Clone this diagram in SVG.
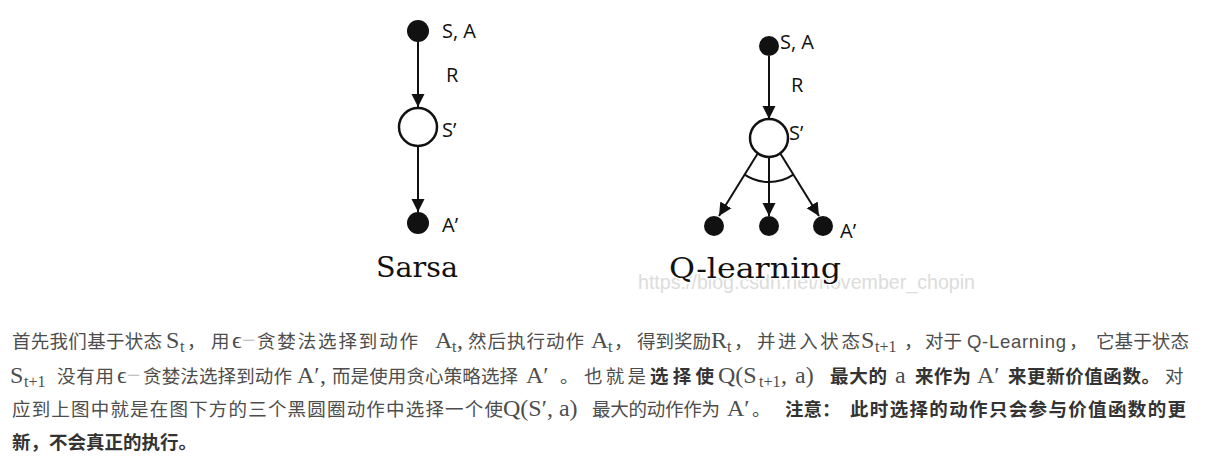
<svg xmlns="http://www.w3.org/2000/svg" width="1205" height="461" viewBox="0 0 1205 461">
<defs>
<marker id="ah" markerUnits="userSpaceOnUse" markerWidth="14" markerHeight="14" viewBox="0 0 14 14" refX="13" refY="7" orient="auto"><path d="M0,0.5 L13,7 L0,13.5 Z" fill="#111"/></marker>
<style>
.fn{fill:#111}
.on{fill:#fff;stroke:#111;stroke-width:2.5}
.ed{stroke:#111;stroke-width:2;fill:none}
.lb{font-family:"Open Sans","Liberation Sans",sans-serif;font-size:20px;fill:#111}
.ti{font-family:"DejaVu Serif","Liberation Serif",serif;font-size:28px;fill:#111}
.wm{font-family:"Liberation Sans",Arial,sans-serif;font-size:20px;fill:#dcdcdc}
.p{font-family:"Noto Sans CJK SC",sans-serif;font-size:18.5px;fill:#4d4d4d}
.b{font-weight:bold;fill:#333}
.m{font-family:"Liberation Serif",serif;font-size:24px;fill:#4d4d4d}
.s{font-family:"Liberation Serif",serif;font-size:16px;fill:#4d4d4d}
.d{fill:#b5b5b5}
.la{font-family:"Liberation Sans",Arial,sans-serif}
</style>
</defs>
<text class="wm" x="638" y="289" textLength="337" lengthAdjust="spacingAndGlyphs">https://blog.csdn.net/november_chopin</text>
<g id="connectors">
<line class="ed" x1="418" y1="42" x2="418" y2="107" marker-end="url(#ah)"/>
<line class="ed" x1="418" y1="146" x2="418" y2="212" marker-end="url(#ah)"/>
<line class="ed" x1="769" y1="56" x2="769" y2="119" marker-end="url(#ah)"/>
<line class="ed" x1="758" y1="153" x2="719" y2="216" marker-end="url(#ah)"/>
<line class="ed" x1="769" y1="157" x2="769" y2="216" marker-end="url(#ah)"/>
<line class="ed" x1="780" y1="153" x2="819" y2="216" marker-end="url(#ah)"/>
<path class="ed" d="M744.6,174.6 A44,44 0 0,0 793.4,174.6"/>
</g>
<g id="sarsa-sa"><circle class="fn" cx="418" cy="31" r="11"/><text class="lb" x="442" y="38">S, A</text></g>
<text class="lb" x="446" y="82">R</text>
<g id="sarsa-s2"><circle class="on" cx="418" cy="127" r="19"/><text class="lb" x="442" y="137">S’</text></g>
<g id="sarsa-a2"><circle class="fn" cx="418" cy="223" r="11"/><text class="lb" x="442" y="232">A’</text></g>
<text class="ti" x="376" y="277" textLength="82" lengthAdjust="spacingAndGlyphs">Sarsa</text>
<g id="q-sa"><circle class="fn" cx="769" cy="46" r="10"/><text class="lb" x="780" y="49">S, A</text></g>
<text class="lb" x="791" y="92">R</text>
<g id="q-s2"><circle class="on" cx="769" cy="138" r="19"/><text class="lb" x="789" y="140">S’</text></g>
<g id="q-a1"><circle class="fn" cx="714" cy="226" r="10"/></g>
<g id="q-a2"><circle class="fn" cx="769" cy="226" r="10"/></g>
<g id="q-a3"><circle class="fn" cx="823" cy="226" r="10"/><text class="lb" x="840" y="238">A’</text></g>
<text class="ti" x="669" y="278" textLength="172" lengthAdjust="spacingAndGlyphs" stroke="#fff" stroke-width="3" paint-order="stroke">Q-learning</text>

<g id="paragraph">
<text class="p" x="12" y="348" textLength="150">首先我们基于状态</text>
<text class="m" x="166" y="348">S</text><text class="s" x="180" y="352">t</text>
<text class="p" x="187" y="348">，</text><text class="p" x="211" y="348">用</text>
<text class="m" x="232" y="348">ϵ</text><text class="m d" x="242" y="348">−</text>
<text class="p" x="257" y="348" textLength="161">贪婪法选择到动作</text>
<text class="m" x="435" y="348">A</text><text class="s" x="452" y="352">t</text><text class="m" x="457" y="348">,</text>
<text class="p" x="468" y="348" textLength="116">然后执行动作</text>
<text class="m" x="591" y="348">A</text><text class="s" x="608" y="352">t</text>
<text class="p" x="614" y="348">，</text>
<text class="p" x="637" y="348" textLength="74">得到奖励</text>
<text class="m" x="711" y="348">R</text><text class="s" x="727" y="352">t</text>
<text class="p" x="734" y="348">，</text>
<text class="p" x="757" y="348" textLength="103">并进入状态</text>
<text class="m" x="861" y="348">S</text><text class="s" x="875" y="352">t+1</text>
<text class="p" x="904" y="348">，</text>
<text class="p" x="925" y="348" textLength="37">对于</text>
<text class="p la" x="967" y="348" textLength="99">Q-Learning</text>
<text class="p" x="1069" y="348">，</text>
<text class="p" x="1096" y="348" textLength="93">它基于状态</text>

<text class="m" x="10" y="383">S</text><text class="s" x="24" y="387">t+1</text>
<text class="p" x="57" y="383" textLength="57">没有用</text>
<text class="m" x="117" y="383">ϵ</text><text class="m d" x="127" y="383">−</text>
<text class="p" x="143" y="383" textLength="149">贪婪法选择到动作</text>
<text class="m" x="297" y="383">A′</text><text class="m" x="320" y="383">,</text>
<text class="p" x="332" y="383" textLength="186">而是使用贪心策略选择</text>
<text class="m" x="526" y="383">A′</text>
<text class="p" x="560" y="383">。</text>
<text class="p" x="584" y="383" textLength="62">也就是</text>
<text class="p b" x="650" y="383" textLength="64">选择使</text>
<text class="m" x="718" y="383">Q(S</text><text class="s" x="759" y="387">t+1</text><text class="m" x="781" y="383">,</text><text class="m" x="795" y="383">a)</text>
<text class="p b" x="830" y="383" textLength="57">最大的</text>
<text class="m" x="895" y="383">a</text>
<text class="p b" x="915" y="383" textLength="56">来作为</text>
<text class="m" x="977" y="383">A′</text>
<text class="p b" x="1008" y="383" textLength="152">来更新价值函数。</text>
<text class="p" x="1165" y="383">对</text>

<text class="p" x="12" y="416" textLength="491">应到上图中就是在图下方的三个黑圆圈动作中选择一个使</text>
<text class="m" x="503" y="416">Q(S′, a)</text>
<text class="p" x="592" y="416" textLength="128">最大的动作作为</text>
<text class="m" x="727" y="416">A′</text>
<text class="p" x="752" y="416">。</text>
<text class="p b" x="785" y="416">注意：</text>
<text class="p b" x="850" y="416" textLength="336">此时选择的动作只会参与价值函数的更</text>

<text class="p b" x="12" y="449">新，不会真正的执行。</text>
</g>
</svg>
